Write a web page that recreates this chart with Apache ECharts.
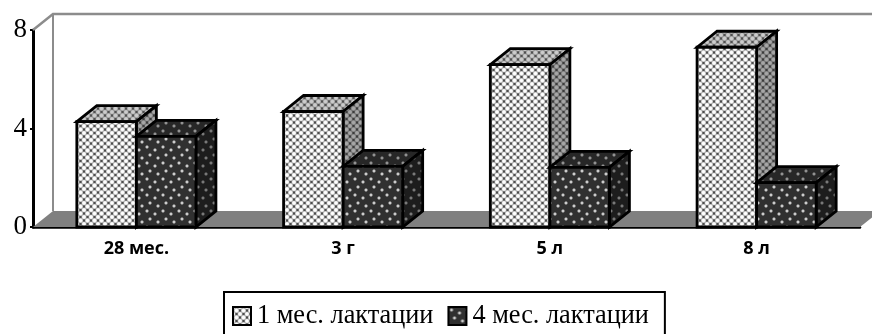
<!DOCTYPE html>
<html>
<head>
<meta charset="utf-8">
<style>html,body{margin:0;padding:0;background:#fff;overflow:hidden}#chart{width:872px;height:334px}</style>
<script src="https://cdn.jsdelivr.net/npm/echarts@6/dist/echarts.min.js"></script>
</head>
<body>
<div id="chart"></div>
<script>
const categories = ['28 мес.', '3 г', '5 л', '8 л'];
const month1 = [4.28, 4.69, 6.59, 7.3];
const month4 = [3.68, 2.46, 2.42, 1.8];
const yTicks = [0, 4, 8];

// Oblique projection of the third dimension, in pixels.
const DEPTH_X = 20, DEPTH_Y = -16;
const BAR_SHARE = 0.288;

// Repeating tiles for the fills: a diagonal lattice of light and dark spots...
function lattice(bg, ink, light) {
  const c = document.createElement('canvas');
  c.width = c.height = 7;
  const g = c.getContext('2d');
  g.fillStyle = bg; g.fillRect(0, 0, 7, 7);
  const spot = (x, y, r, col) => {
    const s = g.createRadialGradient(x, y, r * 0.5, x, y, r);
    s.addColorStop(0, col); s.addColorStop(1, bg);
    g.fillStyle = s; g.beginPath(); g.arc(x, y, r, 0, 7); g.fill();
  };
  [[3.5, 0], [0, 3.5], [7, 3.5], [3.5, 7]].forEach(([x, y]) => spot(x, y, 2.2, ink));
  [[0, 0], [7, 0], [0, 7], [7, 7], [3.5, 3.5]].forEach(([x, y]) => spot(x, y, 2.5, light));
  return { image: c, repeat: 'repeat' };
}
// ...and sparse soft dots on a dark ground.
function dots(bg, ink) {
  const c = document.createElement('canvas');
  c.width = c.height = 16;
  const g = c.getContext('2d');
  g.fillStyle = bg; g.fillRect(0, 0, 16, 16);
  [[3, 3], [11, 6], [6, 11], [14, 14]].forEach(([x, y]) => {
    const r = g.createRadialGradient(x, y, 0.4, x, y, 2.2);
    r.addColorStop(0, ink); r.addColorStop(1, bg);
    g.fillStyle = r; g.beginPath(); g.arc(x, y, 2.2, 0, 7); g.fill();
  });
  return { image: c, repeat: 'repeat' };
}

const fills = [
  { front: lattice('#b0b0b0', '#4c4c4c', '#ffffff'), top: lattice('#969696', '#505050', '#cccccc'), side: lattice('#767676', '#3c3c3c', '#a6a6a6') },
  { front: dots('#303030', '#ececec'), top: dots('#272727', '#a8a8a8'), side: dots('#1d1d1d', '#8c8c8c') }
];

function face(points, fill) {
  return { type: 'polygon', shape: { points }, style: { fill, stroke: '#000', lineWidth: 2.8, lineJoin: 'miter' } };
}

function boxRenderer(index) {
  return function (params, api) {
    const band = api.size([1, 0])[0];
    const w = band * BAR_SHARE;
    const c = api.coord([api.value(0), 0]);
    const t = api.coord([api.value(0), api.value(1)]);
    const l = c[0] + (index === 0 ? -w : 0), r = l + w;
    const y0 = c[1], y1 = t[1];
    return {
      type: 'group',
      children: [
        face([[l, y1], [r, y1], [r + DEPTH_X, y1 + DEPTH_Y], [l + DEPTH_X, y1 + DEPTH_Y]], fills[index].top),
        face([[r, y1], [r + DEPTH_X, y1 + DEPTH_Y], [r + DEPTH_X, y0 + DEPTH_Y], [r, y0]], fills[index].side),
        face([[l, y1], [r, y1], [r, y0], [l, y0]], fills[index].front)
      ]
    };
  };
}

// Floor and back-wall outline of the 3D box.
function frameRenderer(params, api) {
  const cs = params.coordSys;
  const x0 = cs.x, x1 = cs.x + cs.width, y0 = cs.y + cs.height, y8 = cs.y;
  return {
    type: 'group',
    silent: true,
    children: [
      { type: 'polygon', shape: { points: [[x0, y0], [x0 + DEPTH_X, y0 + DEPTH_Y], [x1 + DEPTH_X, y0 + DEPTH_Y], [x1, y0]] }, style: { fill: '#808080' } },
      { type: 'polyline', shape: { points: [[x0, y8], [x0 + DEPTH_X, y8 + DEPTH_Y], [x1 + DEPTH_X, y8 + DEPTH_Y]] }, style: { fill: 'none', stroke: '#8c8c8c', lineWidth: 2.5 } },
      { type: 'line', shape: { x1: x0 + DEPTH_X, y1: y8 + DEPTH_Y, x2: x0 + DEPTH_X, y2: y0 + DEPTH_Y }, style: { stroke: '#8c8c8c', lineWidth: 2 } }
    ]
  };
}

const chart = echarts.init(document.getElementById('chart'), null, { renderer: 'canvas' });
chart.setOption({
  animation: false,
  backgroundColor: '#fff',
  grid: { left: 33, right: 12, top: 30, height: 197 },
  xAxis: {
    type: 'category', data: categories,
    axisTick: { show: false },
    axisLine: { show: true, lineStyle: { color: '#000', width: 2.5 } },
    axisLabel: { color: '#000', fontFamily: 'Open Sans', fontWeight: 'bold', fontSize: 18, margin: 13 }
  },
  yAxis: {
    type: 'value', min: yTicks[0], max: yTicks[2], interval: yTicks[1],
    splitLine: { show: false },
    axisLine: { show: true, lineStyle: { color: '#000', width: 3 } },
    axisTick: { show: true, length: 3, lineStyle: { color: '#000', width: 2 } },
    axisLabel: { color: '#000', fontFamily: 'Liberation Serif', fontSize: 27, margin: 6, padding: [3, 0, 0, 0] }
  },
  legend: {
    left: 224, top: 292,
    padding: [11, 16, 24, 8], itemGap: 14, itemWidth: 18, itemHeight: 18,
    borderColor: '#000', borderWidth: 2, borderRadius: 0,
    textStyle: { color: '#000', fontFamily: 'Liberation Serif', fontSize: 26.3, padding: [0, 0, 0, 1] },
    data: [
      { name: '1 мес. лактации', icon: 'rect', itemStyle: { color: fills[0].front, borderColor: '#000', borderWidth: 2 } },
      { name: '4 мес. лактации', icon: 'rect', itemStyle: { color: fills[1].front, borderColor: '#000', borderWidth: 2 } }
    ]
  },
  series: [
    { type: 'custom', name: 'frame', renderItem: frameRenderer, data: [[0]], clip: false, z: 1, silent: true, encode: { x: 0 } },
    { type: 'custom', name: '1 мес. лактации', renderItem: boxRenderer(0), clip: false, z: 3,
      itemStyle: { color: fills[0].front }, data: month1.map((v, i) => [i, v]), encode: { x: 0, y: 1 } },
    { type: 'custom', name: '4 мес. лактации', renderItem: boxRenderer(1), clip: false, z: 4,
      itemStyle: { color: fills[1].front }, data: month4.map((v, i) => [i, v]), encode: { x: 0, y: 1 } }
  ]
});
</script>
</body>
</html>
